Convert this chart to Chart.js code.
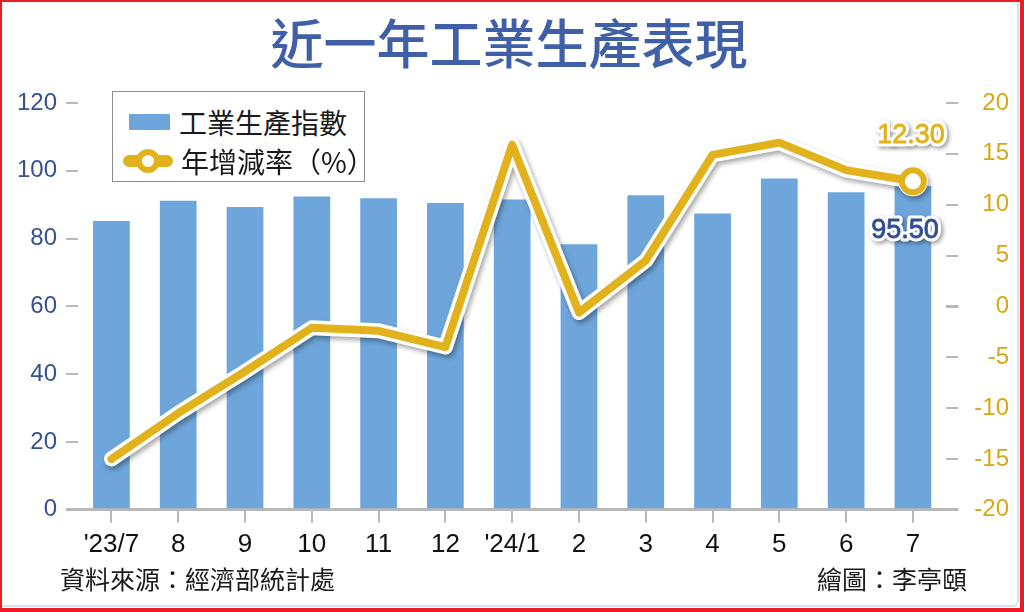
<!DOCTYPE html>
<html>
<head>
<meta charset="utf-8">
<script src="https://cdn.jsdelivr.net/npm/chart.js@4"></script>
<style>
    body { margin: 0; background: #fff; }
    #wrap { position: relative; width: 1024px; height: 612px; overflow: hidden; background: #fff; }
    #chart { position: absolute; left: 0; top: 0; }
    .cjk { font-family: "Noto Sans CJK TC", "Noto Sans CJK SC", sans-serif; }
    #title { position: absolute; left: 0; width: 1018px; top: 8px; text-align: center;
             font-size: 53px; font-weight: 500; color: #3f5fa6; line-height: 66px; }
    #legend { position: absolute; left: 112px; top: 91px; width: 251px; height: 89px;
              border: 1.5px solid #8c8c8c; background: #fff; }
    .lg-row { position: absolute; left: 0; height: 40px; width: 100%; }
    .lg-text { position: absolute; left: 66px; top: 0; line-height: 40px; font-size: 28px; color: #1a1a1a; }
    #sw-bar { position: absolute; left: 16px; top: 12px; width: 41px; height: 16px; }
    #sw-line { position: absolute; left: 10px; top: 14px; width: 50px; height: 12px; border-radius: 6px; }
    #sw-ring { position: absolute; left: 23px; top: 8px; width: 12px; height: 12px; border-radius: 50%;
               background: #fff; border-width: 6px; border-style: solid; }
    .foot { position: absolute; top: 561px; font-size: 25px; color: #1a1a1a; line-height: 34px; }
    #frame { position: absolute; left: 0; top: 0; width: 1019px; height: 607px; box-sizing: border-box;
             border-right: 2px solid #d3e3ee; border-bottom: 2px solid #d3e3ee; border-bottom-right-radius: 6px; }
    #redline { position: absolute; left: 0; top: 0; width: 1024px; height: 612px; box-sizing: border-box;
               border: 2px solid #ec1c24; border-right-width: 4px; border-bottom-width: 4px; }
</style>
</head>
<body>
<div id="wrap">
    <canvas id="chart" width="1024" height="612"></canvas>
    <div id="title" class="cjk">近一年工業生產表現</div>
    <div id="legend" class="cjk">
        <div class="lg-row" style="top: 10px;">
            <div id="sw-bar"></div>
            <div class="lg-text">工業生產指數</div>
        </div>
        <div class="lg-row" style="top: 49px;">
            <div id="sw-line"></div>
            <div id="sw-ring"></div>
            <div class="lg-text" style="left: 68px;">年增減率（%）</div>
        </div>
    </div>
    <div class="foot cjk" style="left: 60px;">資料來源：經濟部統計處</div>
    <div class="foot cjk" style="right: 57px;">繪圖：李亭頤</div>
    <div id="frame"></div>
    <div id="redline"></div>
</div>
<script>
// values
const months = ["'23/7", "8", "9", "10", "11", "12", "'24/1", "2", "3", "4", "5", "6", "7"];
const ipIndex = [85.2, 91.2, 89.3, 92.4, 91.9, 90.5, 91.5, 78.3, 92.8, 87.4, 97.7, 93.7, 95.5];
const yoyRate = [-15.0, -10.5, -6.4, -2.1, -2.4, -4.0, 15.9, -0.6, 4.5, 14.9, 16.1, 13.4, 12.3];
const indexTicks = [0, 120, 20];   // min, max, step
const rateTicks = [-20, 20, 5];

const barColor = '#6ea6dc';
const lineColor = '#e2b21c';
const last = months.length - 1;

document.getElementById('sw-bar').style.background = barColor;
document.getElementById('sw-line').style.background = lineColor;
document.getElementById('sw-ring').style.borderColor = lineColor;

Chart.defaults.font.family = '"Liberation Sans", Arial, sans-serif';

// white halo + soft shadow under the gold line
const haloShadow = {
    id: 'haloShadow',
    beforeDatasetDraw(chart, args) {
        if (args.index !== 1) return;
        const ctx = chart.ctx;
        ctx.save();
        ctx.shadowColor = 'rgba(0, 0, 0, 0.35)';
        ctx.shadowBlur = 5;
        ctx.shadowOffsetX = 2;
        ctx.shadowOffsetY = 3;
    },
    afterDatasetDraw(chart, args) {
        if (args.index !== 1) return;
        chart.ctx.restore();
    }
};

function drawTag(ctx, text, x, y, color) {
    ctx.save();
    ctx.font = '27px "Liberation Sans", Arial, sans-serif';
    ctx.textAlign = 'center';
    ctx.textBaseline = 'middle';
    ctx.lineJoin = 'round';
    ctx.shadowColor = 'rgba(0, 0, 0, 0.4)';
    ctx.shadowBlur = 4;
    ctx.shadowOffsetX = 2;
    ctx.shadowOffsetY = 2;
    ctx.strokeStyle = '#fff';
    ctx.lineWidth = 7;
    ctx.strokeText(text, x, y);
    ctx.shadowColor = 'transparent';
    ctx.fillStyle = color;
    ctx.fillText(text, x, y);
    ctx.strokeStyle = color;
    ctx.lineWidth = 0.8;
    ctx.strokeText(text, x, y);
    ctx.restore();
}

const lastValues = {
    id: 'lastValues',
    afterDatasetsDraw(chart) {
        const bar = chart.getDatasetMeta(0).data[last];
        const pt = chart.getDatasetMeta(2).data[last];
        drawTag(chart.ctx, yoyRate[last].toFixed(2), pt.x - 2, pt.y - 46, lineColor);
        drawTag(chart.ctx, ipIndex[last].toFixed(2), bar.x - 8, bar.y + 44, '#2f4f93');
    }
};

const tickGrid = {
    drawOnChartArea: false,
    drawTicks: true,
    tickLength: 12,
    color: '#b8b8b8',
    lineWidth: ctx => (ctx.tick && (ctx.tick.value === indexTicks[0] || ctx.tick.value === rateTicks[0])) ? 3 : 2
};

new Chart(document.getElementById('chart'), {
    type: 'bar',
    data: {
        labels: months,
        datasets: [{
            label: '工業生產指數',
            data: ipIndex,
            backgroundColor: barColor,
            barPercentage: 0.55,
            categoryPercentage: 1,
            yAxisID: 'y',
            order: 3
        }, {
            type: 'line',
            label: 'halo',
            data: yoyRate,
            borderColor: '#fff',
            borderWidth: 15,
            borderJoinStyle: 'round',
            borderCapStyle: 'round',
            pointRadius: ctx => ctx.dataIndex === last ? 15 : 0,
            pointBackgroundColor: '#fff',
            pointBorderWidth: 0,
            tension: 0,
            yAxisID: 'y1',
            clip: false,
            order: 2
        }, {
            type: 'line',
            label: '年增減率（%）',
            data: yoyRate,
            borderColor: lineColor,
            borderWidth: 8,
            borderJoinStyle: 'round',
            borderCapStyle: 'round',
            pointRadius: ctx => ctx.dataIndex === last ? 11 : 0,
            pointBackgroundColor: '#fff',
            pointBorderColor: lineColor,
            pointBorderWidth: 6,
            tension: 0,
            yAxisID: 'y1',
            clip: false,
            order: 1
        }]
    },
    options: {
        responsive: false,
        animation: false,
        events: [],
        layout: { padding: { left: 8, right: 15, top: 103, bottom: 46 } },
        plugins: {
            legend: { display: false },
            tooltip: { enabled: false }
        },
        scales: {
            x: {
                grid: { drawOnChartArea: false, drawTicks: true, tickLength: 13, offset: false, color: '#b8b8b8', lineWidth: 2 },
                border: { display: true, color: '#b8b8b8', width: 3 },
                ticks: { color: '#111', font: { size: 26 }, padding: 6, maxRotation: 0, autoSkip: false }
            },
            y: {
                position: 'left',
                min: indexTicks[0],
                max: indexTicks[1],
                grid: tickGrid,
                border: { display: false },
                ticks: { stepSize: indexTicks[2], color: '#34528f', font: { size: 24 }, padding: 9 }
            },
            y1: {
                position: 'right',
                min: rateTicks[0],
                max: rateTicks[1],
                grid: tickGrid,
                border: { display: false },
                ticks: { stepSize: rateTicks[2], color: '#d6a912', font: { size: 24 }, padding: 8, crossAlign: 'far' }
            }
        }
    },
    plugins: [haloShadow, lastValues]
});
</script>
</body>
</html>
